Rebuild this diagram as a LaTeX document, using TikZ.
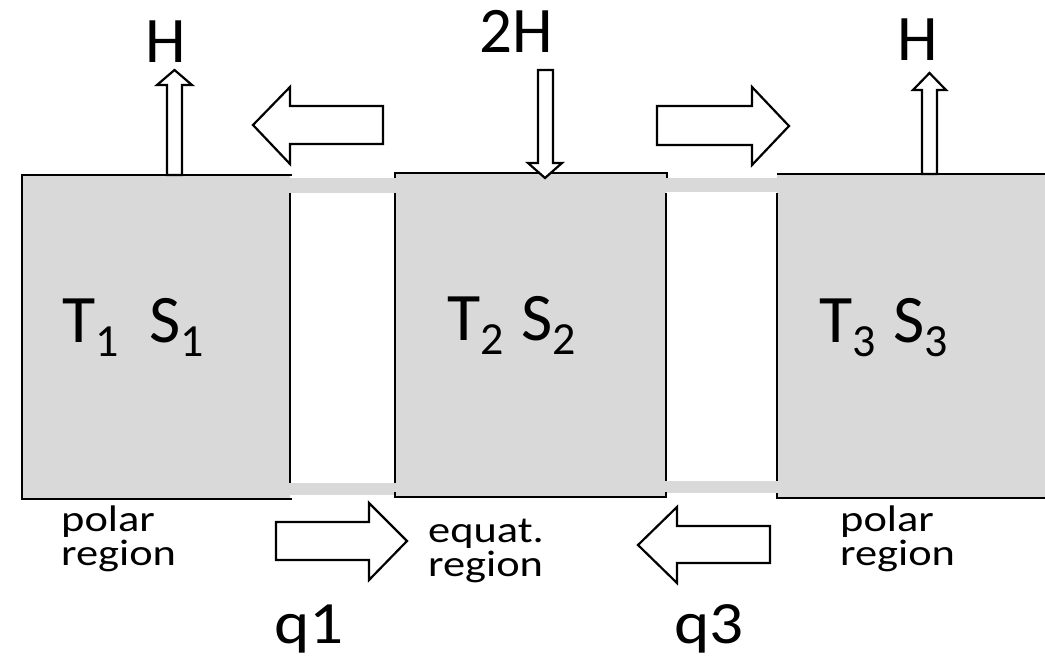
\documentclass[tikz,border=0pt]{standalone}
\usepackage{fontspec}
\setmainfont{Carlito}
\definecolor{boxgray}{gray}{0.85}
\newcommand{\sbs}[1]{\raisebox{-14pt}{\fontsize{46}{46}\selectfont #1}}
\newcommand{\wide}[1]{\scalebox{1.2}[1]{#1}}
\begin{document}
\begin{tikzpicture}[x=1pt,y=-1pt,
  edge/.style={line width=2.4pt},
  barrow/.style={draw=black, fill=white, line width=2.2pt, line join=miter},
  lab/.style={inner sep=0pt, anchor=base west},
  big/.style={font=\fontsize{68}{68}\selectfont},
  hlab/.style={inner sep=0pt, anchor=base, font=\fontsize{65}{65}\selectfont},
  small/.style={font=\fontsize{37}{37}\selectfont},
  qlab/.style={font=\fontsize{60}{60}\selectfont}]
\useasboundingbox (0,0) rectangle (1045,656);
% box fills
\fill[boxgray] (22,175) rectangle (290,499);
\fill[boxgray] (395,173) rectangle (666,497);
\fill[boxgray] (777,174) rectangle (1045,499);
% pipe strips
\fill[boxgray] (290,178) rectangle (395,193);
\fill[boxgray] (290,483) rectangle (395,495);
\fill[boxgray] (666,178) rectangle (777,192);
\fill[boxgray] (666,481) rectangle (777,493);
% outlines
\draw[edge] (292,175) -- (22,175) -- (22,499) -- (292,499);
\draw[edge] (290,193) -- (290,483);
\draw[edge] (395,178) -- (395,173) -- (667,173) -- (667,178);
\draw[edge] (395,193) -- (395,483);
\draw[edge] (666,193) -- (666,481);
\draw[edge] (395,492) -- (395,497) -- (666,497) -- (666,492);
\draw[edge] (1045,174) -- (777,174);
\draw[edge] (777,193) -- (777,481);
\draw[edge] (777,493) -- (777,498) -- (1045,498);
% vertical heat arrows
\draw[barrow] (174.5,70) -- (192,85) -- (182,85) -- (182,175) -- (167,175) -- (167,85) -- (157,85) -- cycle;
\draw[barrow] (545,178) -- (562,163) -- (553,163) -- (553,70) -- (538,70) -- (538,163) -- (528,163) -- cycle;
\draw[barrow] (929.5,73) -- (946,90) -- (937,90) -- (937,174) -- (922,174) -- (922,90) -- (913,90) -- cycle;
% transport arrows
\draw[barrow] (253,125) -- (290,87) -- (290,106) -- (383,106) -- (383,144) -- (290,144) -- (290,164) -- cycle;
\draw[barrow] (789,126) -- (752,87) -- (752,106) -- (657,106) -- (657,145) -- (752,145) -- (752,165) -- cycle;
\draw[barrow] (407,541) -- (369,503) -- (369,522) -- (276,522) -- (276,560) -- (369,560) -- (369,580) -- cycle;
\draw[barrow] (638,545) -- (677,507) -- (677,526) -- (770,526) -- (770,563) -- (677,563) -- (677,583) -- cycle;
% labels
\node[hlab] (h1) at (166,62) {H};
\node[hlab] (h2) at (516,52) {2H};
\node[hlab] (h3) at (918,60) {H};
\node[lab,big] (ts1) at (62,342) {T\sbs{1}\hspace{31pt}S\sbs{1}};
\node[lab,big] (ts2) at (447,340) {T\sbs{2}\hspace{18pt}S\sbs{2}};
\node[lab,big] (ts3) at (819,342) {T\sbs{3}\hspace{18pt}S\sbs{3}};
\node[lab,small] (p1a) at (61,531) {\wide{polar}};
\node[lab,small] (p1b) at (61,565) {\wide{region}};
\node[lab,small] (eqa) at (428,542) {\wide{equat.}};
\node[lab,small] (eqb) at (428,576) {\wide{region}};
\node[lab,small] (p3a) at (840,531) {\wide{polar}};
\node[lab,small] (p3b) at (840,565) {\wide{region}};
\node[lab,qlab] (q1) at (274,643) {\scalebox{1.12}[1]{q1}};
\node[lab,qlab] (q3) at (674,643) {\scalebox{1.12}[1]{q3}};
\end{tikzpicture}
\end{document}
